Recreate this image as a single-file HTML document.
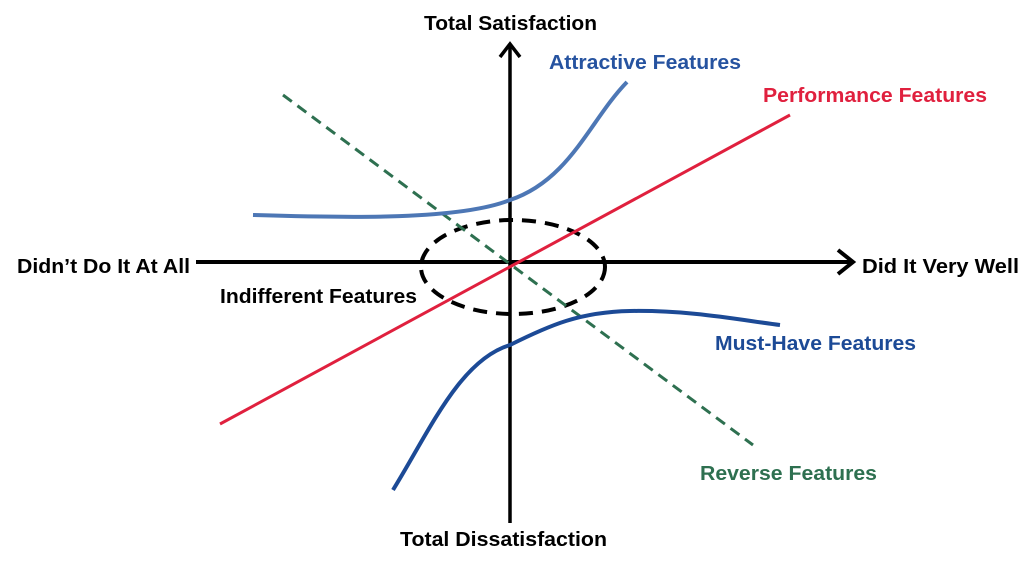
<!DOCTYPE html>
<html><head><meta charset="utf-8"><style>
html,body{margin:0;padding:0;background:#fff;}
svg{display:block;}
text{font-family:"Liberation Sans",Arial,sans-serif;font-weight:bold;font-size:20px;}
</style></head><body>
<svg width="1024" height="561" viewBox="0 0 1024 561" xmlns="http://www.w3.org/2000/svg">
<line x1="196" y1="262" x2="853" y2="262" stroke="#000" stroke-width="4"/>
<polyline points="838,250 853,262 838,274" fill="none" stroke="#000" stroke-width="4"/>
<line x1="510" y1="44" x2="510" y2="523" stroke="#000" stroke-width="3.5"/>
<polyline points="500,57 510,44 520,57" fill="none" stroke="#000" stroke-width="3.5"/>
<ellipse cx="513" cy="267" rx="92" ry="47" fill="none" stroke="#000" stroke-width="4" stroke-dasharray="14,9"/>
<line x1="220" y1="424" x2="790" y2="115" stroke="#e0203e" stroke-width="3"/>
<line x1="283" y1="95" x2="753" y2="445" stroke="#2e7050" stroke-width="3" stroke-dasharray="11,7"/>
<path d="M253,215 C350,218 460,220 510,200 C570,180 590,120 627,82" fill="none" stroke="#4d77b5" stroke-width="4"/>
<path d="M393,490 C430,430 460,360 510,345 C550,325 580,312 630,311 C690,310 740,320 780,325" fill="none" stroke="#1c4a96" stroke-width="4"/>
<g lengthAdjust="spacingAndGlyphs">
<text x="424" y="30" textLength="173" lengthAdjust="spacingAndGlyphs">Total Satisfaction</text>
<text x="549" y="69" fill="#2653a0" textLength="192" lengthAdjust="spacingAndGlyphs">Attractive Features</text>
<text x="763" y="102" fill="#e0203e" textLength="224" lengthAdjust="spacingAndGlyphs">Performance Features</text>
<text x="17" y="273" textLength="173" lengthAdjust="spacingAndGlyphs">Didn’t Do It At All</text>
<text x="862" y="273" textLength="157" lengthAdjust="spacingAndGlyphs">Did It Very Well</text>
<text x="220" y="303" textLength="197" lengthAdjust="spacingAndGlyphs">Indifferent Features</text>
<text x="715" y="350" fill="#1c4a96" textLength="201" lengthAdjust="spacingAndGlyphs">Must-Have Features</text>
<text x="700" y="480" fill="#2e7050" textLength="177" lengthAdjust="spacingAndGlyphs">Reverse Features</text>
<text x="400" y="546" textLength="207" lengthAdjust="spacingAndGlyphs">Total Dissatisfaction</text>
</g>
</svg>
</body></html>
